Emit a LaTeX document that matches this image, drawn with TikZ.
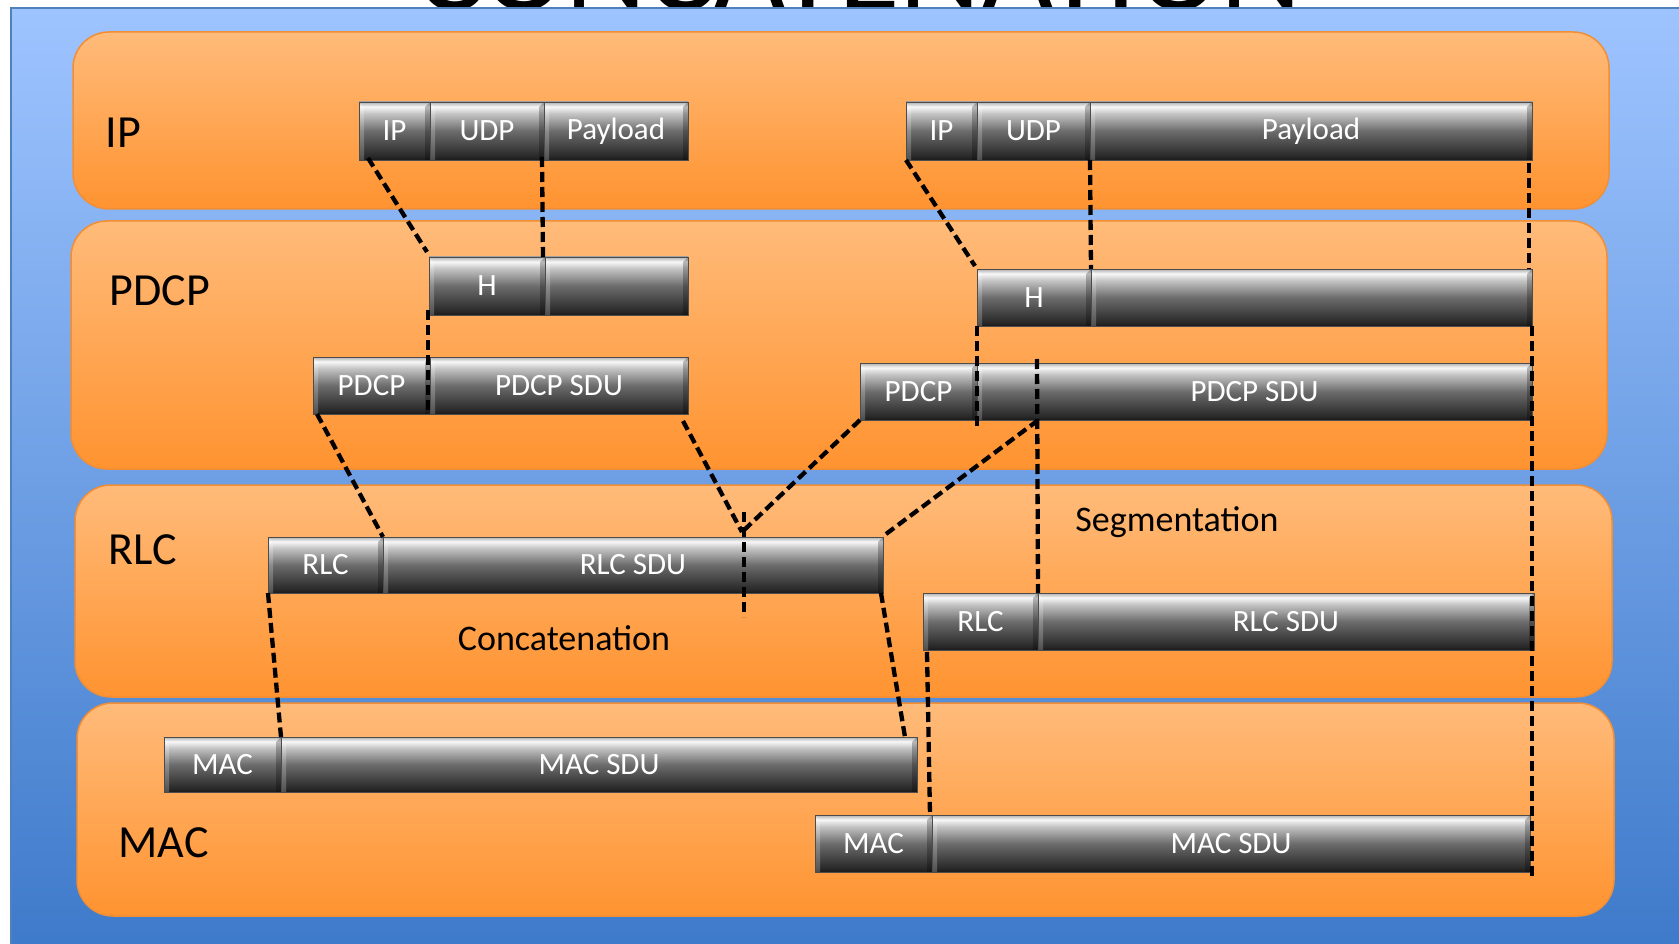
\documentclass[tikz,border=0pt]{standalone}
\usepackage{fontspec}
\setmainfont{Carlito}
\usetikzlibrary{calc}
\definecolor{bgtop}{RGB}{158,196,255}
\definecolor{bgbot}{RGB}{62,122,202}
\definecolor{bgline}{RGB}{79,129,189}
\definecolor{bandtop}{RGB}{255,187,122}
\definecolor{bandbot}{RGB}{255,147,48}
\definecolor{bandline}{RGB}{242,142,52}
\definecolor{barA}{RGB}{26,26,26}
\definecolor{barB}{RGB}{40,40,40}
\definecolor{barC}{RGB}{108,108,108}
\definecolor{barD}{RGB}{196,196,196}
\definecolor{barE}{RGB}{248,248,248}
\definecolor{barF}{RGB}{175,175,175}
\pgfdeclareverticalshading{barshade}{100bp}{color(0bp)=(barA); color(25bp)=(barA); color(28bp)=(barB); color(50bp)=(barC); color(65bp)=(barD); color(71bp)=(barE); color(75bp)=(barF); color(100bp)=(barF)}
\tikzset{
  pbox/.style={shading=barshade, draw=black!70, line width=0.8pt, inner sep=0pt, outer sep=0pt,
    text=white, font=\fontsize{31}{34}\selectfont,
    path picture={
      \fill[white,opacity=0.22] (path picture bounding box.north west) -- ++(5,5) -- ($(path picture bounding box.south west)+(5,0)$) -- (path picture bounding box.south west) -- cycle;
      \fill[black,opacity=0.25] (path picture bounding box.north east) -- ++(-5,5) -- ($(path picture bounding box.south east)+(-5,0)$) -- (path picture bounding box.south east) -- cycle;
    }},
  band/.style={top color=bandtop, bottom color=bandbot, draw=bandline, line width=1.5pt, rounded corners=36pt},
  layer/.style={anchor=west, text=black, font=\fontsize{46}{50}\selectfont},
  note/.style={text=black, font=\fontsize{36}{40}\selectfont},
  dl/.style={draw=black, line width=4.3pt, dash pattern=on 10pt off 5pt}
}
\newcommand\pbx[6]{\node[pbox,minimum width={#4-#2},minimum height={#5-#3},anchor=north west] (#1) at (#2,#3) {#6};}
\begin{document}
\begin{tikzpicture}[x=1pt,y=-1pt]
\useasboundingbox (0,0) rectangle (1679,944);
\clip (0,0) rectangle (1679,944);
\fill[white] (0,0) rectangle (1679,944);
\node[anchor=base, text=black, font=\fontsize{126}{130}\selectfont] (title) at (859,11) {CONCATENATION};
\shade[top color=bgtop, bottom color=bgbot] (11,8) rectangle (1690,950);
\draw[bgline, line width=2pt] (11,950) -- (11,8) -- (1690,8);
% bands
\path[band] (73,32) rectangle (1609,209);
\path[band] (71,221) rectangle (1607,469);
\path[band] (75,485) rectangle (1612,697);
\path[band] (77,703) rectangle (1614,916);
% layer labels
\node[layer] (lIP) at (102,133) {IP};
\node[layer] (lPDCP) at (106,291) {PDCP};
\node[layer] (lRLC) at (105,550) {RLC};
\node[layer] (lMAC) at (115,843) {MAC};
\node[note] (seg) at (1177,522) {Segmentation};
\node[note] (conc) at (564,638) {Concatenation};
% left column
\pbx{ipA}{359}{102}{430}{160}{IP}
\pbx{udpA}{430}{102}{544}{160}{UDP}
\pbx{payA}{544}{102}{688}{160}{Payload}
\pbx{hA}{429}{257}{545}{315}{H}
\pbx{dA}{545}{257}{688}{315}{}
\pbx{pdcpA}{313}{357}{430}{414}{PDCP}
\pbx{sduA}{430}{357}{688}{414}{PDCP SDU}
\pbx{rlcA}{268}{537}{383}{593}{RLC}
\pbx{rsduA}{383}{537}{883}{593}{RLC SDU}
\pbx{macA}{164}{737}{281}{792}{MAC}
\pbx{msduA}{281}{737}{917}{792}{MAC SDU}
% right column
\pbx{ipB}{906}{102}{977}{160}{IP}
\pbx{udpB}{977}{102}{1090}{160}{UDP}
\pbx{payB}{1090}{102}{1532}{160}{Payload}
\pbx{hB}{977}{269}{1091}{326}{H}
\pbx{dB}{1091}{269}{1532}{326}{}
\pbx{pdcpB}{860}{363}{977}{420}{PDCP}
\pbx{sduB}{977}{363}{1532}{420}{PDCP SDU}
\pbx{rlcB}{923}{593}{1038}{650}{RLC}
\pbx{rsduB}{1038}{593}{1534}{650}{RLC SDU}
\pbx{macB}{815}{815}{932}{872}{MAC}
\pbx{msduB}{932}{815}{1530}{872}{MAC SDU}
% coordinates
\coordinate (j) at (742,532);
\coordinate (cutTop) at (744,512);
\coordinate (cutBot) at (744,617);
\coordinate (segTop) at (1037,359);
\coordinate (segMid) at (1037,421);
\coordinate (hBcut) at (977,430);
\coordinate (endR) at (1532,880);
% dashed connectors, left
\draw[dl] ($(ipA.south west)+(9,-2)$) -- ($(hA.north west)+(-2,-5)$);
\draw[dl] ($(udpA.south east)+(-2,-3)$) -- ($(hA.north east)+(-2,2)$);
\draw[dl] ($(hA.south west)+(-1,-5)$) -- ($(pdcpA.south east)+(-2,0)$);
\draw[dl] ($(pdcpA.south west)+(4,0)$) -- (rlcA.north east);
\draw[dl] ($(sduA.south east)+(-5,7)$) -- (j);
\draw[dl] (pdcpB.south west) -- (j);
\draw[dl] (cutTop) -- (cutBot);
\draw[dl] ($(rsduA.north east)+(3,-3)$) -- (segMid);
\draw[dl] (segTop) -- (rlcB.north east);
\draw[dl] (rlcA.south west) -- (macA.north east);
\draw[dl] ($(rsduA.south east)+(-2,0)$) -- ($(msduA.north east)+(-12,0)$);
% dashed connectors, right
\draw[dl] (ipB.south west) -- ($(hB.north west)+(-2,-3)$);
\draw[dl] (udpB.south east) -- (hB.north east);
\draw[dl] ($(payB.south east)+(-3,3)$) -- ($(dB.north east)+(-3,0)$);
\draw[dl] (hB.south west) -- (hBcut);
\draw[dl] (dB.south east) -- (endR);
\draw[dl] ($(rlcB.south west)+(4,2)$) -- ($(macB.north east)+(-2,0)$);
\end{tikzpicture}
\end{document}
